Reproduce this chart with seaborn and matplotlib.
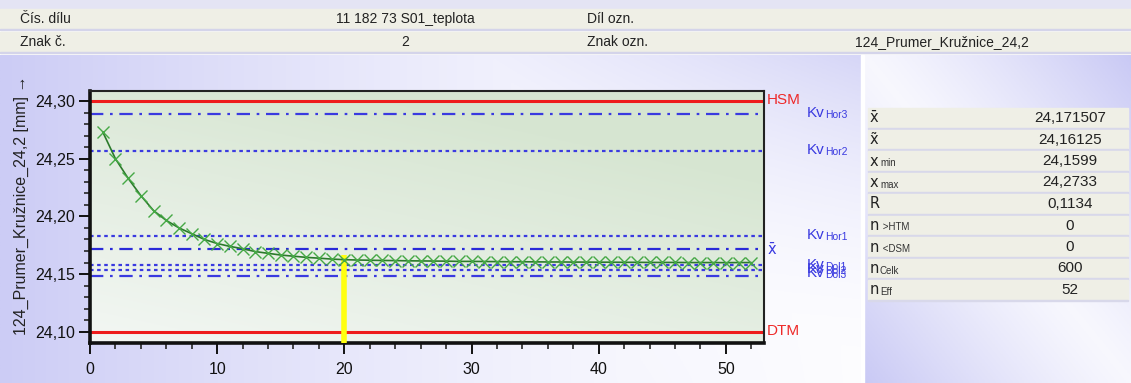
import numpy as np
import matplotlib
matplotlib.use("Agg")
import matplotlib.pyplot as plt
from matplotlib.ticker import MultipleLocator, FuncFormatter
import seaborn as sns

# --- data ---
sample_no = list(range(1, 53))
values = [24.2733, 24.2500, 24.2330, 24.2180, 24.2050, 24.1965, 24.1900, 24.1850,
          24.1800, 24.1765, 24.1740, 24.1720, 24.1695, 24.1680, 24.1665, 24.1655,
          24.1645, 24.1638, 24.1630, 24.1625, 24.1622, 24.1620, 24.1618, 24.1617,
          24.1615, 24.1614, 24.1613, 24.1612, 24.1610, 24.1610, 24.1609, 24.1608,
          24.1607, 24.1607, 24.1606, 24.1605, 24.1605, 24.1604, 24.1604, 24.1603,
          24.1603, 24.1602, 24.1602, 24.1601, 24.1601, 24.1601, 24.1600, 24.1600,
          24.1600, 24.1599, 24.1600, 24.1600]

limit_names = ["HSM", "DTM"]
limit_values = [24.30, 24.10]
kv_names = ["Hor3", "Hor2", "Hor1", "Dol1", "Dol2", "Dol3"]
kv_values = [24.289, 24.2567, 24.183, 24.158, 24.1537, 24.1485]
kv_styles = ["dashdot", "dotted", "dotted", "dotted", "dotted", "dashdot"]
mean_value = 24.1715
cursor_x = 20
cursor_top = 24.1665

header_rows = [["Čís. dílu", "11 182 73 S01_teplota", "Díl ozn.", ""],
               ["Znak č.", "2", "Znak ozn.", "124_Prumer_Kružnice_24,2"]]
stat_names = ["x̄", "x̃", "x", "x", "R", "n", "n", "n", "n"]
stat_subs = ["", "", "min", "max", "", " >HTM", " <DSM", "Celk", "Eff"]
stat_values = ["24,171507", "24,16125", "24,1599", "24,2733", "0,1134", "0", "0", "600", "52"]

sns.set_style("ticks")
plt.rcParams["font.family"] = ["Liberation Sans", "DejaVu Sans"]

W, H = 1131, 383
fig = plt.figure(figsize=(W / 100, H / 100), dpi=100)


def px(x, y):
    return x / W, 1 - y / H


def rect(x0, y0, x1, y1):
    return [x0 / W, 1 - y1 / H, (x1 - x0) / W, (y1 - y0) / H]


lav = np.array([0.79, 0.79, 0.96])
white = np.array([0.99, 0.99, 1.0])


def blend(t):
    return white[None, None, :] * (1 - t[..., None]) + lav[None, None, :] * t[..., None]


# top strip
top = fig.add_axes([0, 0, 1, 1])
top.set_axis_off()
top.add_patch(plt.Rectangle(px(0, 8), 1, 8 / H, color="#e4e4f4", transform=fig.transFigure))

# chart panel background (lavender at the left and top right)
bg = fig.add_axes(rect(0, 55, 861, H))
bg.set_axis_off()
gx, gy = np.meshgrid(np.linspace(0, 1, 300), np.linspace(0, 1, 120))  # gy=0 at top
t = np.maximum(0.95 * (1 - gx) ** 1.6, 0.75 * gx ** 2 * (1 - gy) ** 2)
t = np.maximum(t, 0.45 * (1 - gx) * gy)
bg.imshow(blend(np.clip(t, 0, 1)), extent=[0, 1, 0, 1], aspect="auto")

# header rows
for i, row in enumerate(header_rows):
    y0 = 8 + i * 23
    x, y = px(0, y0 + 22)
    top.add_patch(plt.Rectangle((x, y), 1, 21 / H, color="#efefe6", transform=fig.transFigure))
    top.add_patch(plt.Rectangle(px(0, y0 + 22), 1, 1.5 / H, color="#d4d4ea", transform=fig.transFigure))
    yc = y0 + 11
    fig.text(*px(20, yc), row[0], fontsize=10, va="center", color="#222222")
    fig.text(*px(405, yc), row[1], fontsize=10, va="center", ha="center", color="#222222")
    fig.text(*px(587, yc), row[2], fontsize=10, va="center", color="#222222")
    fig.text(*px(855, yc), row[3], fontsize=10, va="center", color="#222222")

# right stats panel
panel = fig.add_axes(rect(864, 55, W, H))
panel.set_axis_off()
pg = np.linspace(0, 1, 100)
pimg = np.clip(0.1 + 0.9 * np.abs(np.subtract.outer(pg, pg)) ** 1.2, 0, 1)
panel.imshow(blend(pimg), extent=[0, 1, 0, 1], aspect="auto")
fig.add_artist(plt.Rectangle(px(861, H), 3 / W, 1 - 55 / H, color="white", transform=fig.transFigure))
for i in range(len(stat_values)):
    yc = 118 + i * 21.5
    fig.add_artist(plt.Rectangle(px(868, yc + 10), 260 / W, 20 / H, color="#efefe6",
                                 transform=fig.transFigure))
    fig.add_artist(plt.Rectangle(px(868, yc + 11), 260 / W, 1.2 / H, color="#d8d8ea",
                                 transform=fig.transFigure))
    fig.text(*px(870, yc), stat_names[i], fontsize=10.5, va="center", color="#222222",
             family=["DejaVu Sans"])
    if stat_subs[i]:
        fig.text(*px(880, yc + 2), stat_subs[i], fontsize=7, va="center", color="#333333")
    fig.text(*px(1070, yc), stat_values[i], fontsize=11, va="center", ha="center", color="#222222")

# main chart axes
ax = fig.add_axes(rect(90, 90.7, 764, 342.7))
ylo, yhi = 24.0905, 24.309
ax.set_xlim(0, 53)
ax.set_ylim(ylo, yhi)
agx, agy = np.meshgrid(np.linspace(0, 1, 200), np.linspace(0, 1, 100))
green = np.array([0.84, 0.90, 0.82])
s = np.clip(0.25 + 0.6 * agy + 0.35 * agx, 0, 1)
aimg = white[None, None, :] * (1 - s[..., None]) + green[None, None, :] * s[..., None]
ax.imshow(aimg, extent=[0, 53, ylo, yhi], aspect="auto", origin="lower", zorder=0)

for v in limit_values:
    ax.axhline(v, color="#ee1c1c", lw=2.2, zorder=2)
for v, st in zip(kv_values, kv_styles):
    dashes = (6, 3, 1.2, 3) if st == "dashdot" else (1.6, 1.6)
    ax.axhline(v, color="#3a3ae0", lw=1.6, dashes=dashes, zorder=2)
ax.axhline(mean_value, color="#2a2ad8", lw=1.6, dashes=(6, 3, 1.2, 3), zorder=2)

ax.vlines(cursor_x, ylo, cursor_top, color="#ffff10", lw=4, zorder=3)

sns.lineplot(x=sample_no, y=values, ax=ax, color="#2b7a2b", lw=1.2, marker="x",
             markersize=9, markeredgecolor="#45a845", markeredgewidth=1.0, zorder=4)

ax.xaxis.set_major_locator(MultipleLocator(10))
ax.xaxis.set_minor_locator(MultipleLocator(2))
ax.yaxis.set_major_locator(MultipleLocator(0.05))
ax.yaxis.set_minor_locator(MultipleLocator(0.01))
ax.yaxis.set_major_formatter(FuncFormatter(lambda v, p: f"{v:.2f}".replace(".", ",")))
ax.tick_params(axis="both", which="major", length=8, width=1.4, labelsize=11.5,
               colors="#111111", direction="out")
ax.tick_params(axis="both", which="minor", length=4, width=1.2, direction="out")
ax.tick_params(axis="x", pad=6)
ax.tick_params(axis="y", pad=3)
for side in ["left", "bottom"]:
    ax.spines[side].set_linewidth(2.6)
    ax.spines[side].set_color("#111111")
for side in ["top", "right"]:
    ax.spines[side].set_linewidth(1.5)
    ax.spines[side].set_color("#222222")

fig.text(*px(21, 205), "124_Prumer_Kružnice_24,2 [mm] →", rotation=90, fontsize=11.5,
         va="center", ha="center", color="#222222")

# limit and kv labels on the right of the axes
fig.text(*px(767, 100), "HSM", fontsize=11, va="center", color="#ee2a2a")
fig.text(*px(767, 331), "DTM", fontsize=11, va="center", color="#ee2a2a")
fig.text(*px(768, 249), "x̄", fontsize=10.5, va="center", color="#3a3ae0", family=["DejaVu Sans"])
kv_label_y = [113, 150, 235, 265, 269, 273]
for name, yy in zip(kv_names, kv_label_y):
    fig.text(*px(807, yy), "Kv", fontsize=11, va="center", color="#3a3ae0")
    fig.text(*px(825, yy + 2), name, fontsize=7.5, va="center", color="#3a3ae0")

fig.savefig("out.png", dpi=100)
